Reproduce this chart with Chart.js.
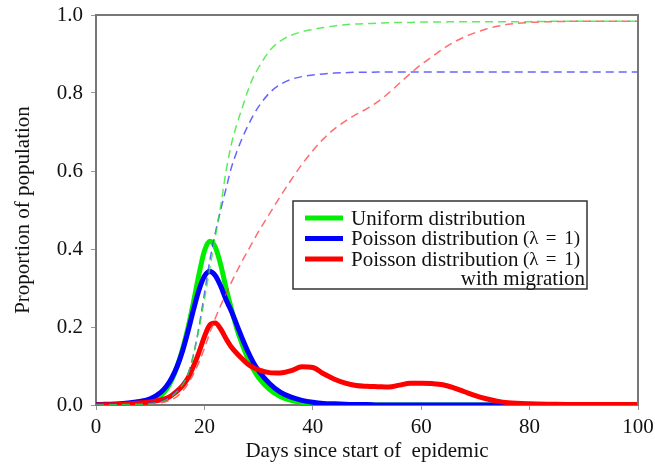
<!DOCTYPE html>
<html>
<head>
<meta charset="utf-8">
<script src="https://cdn.jsdelivr.net/npm/chart.js@4/dist/chart.umd.min.js"></script>
<style>
  html, body { margin: 0; padding: 0; background: #fff; }
  #wrap { width: 655px; height: 466px; }
</style>
</head>
<body>
<div id="wrap"><canvas id="graphic" width="655" height="466"></canvas></div>
<script>
// days sampled for every curve
const days = [0, 5, 8, 10, 12, 13, 14, 15, 16, 17, 18, 19, 20, 21, 22, 23, 24, 25, 26, 27, 28, 29, 30,
  32, 34, 36, 38, 40, 42, 44, 46, 48, 50, 52, 54, 56, 58, 60, 62, 64, 66, 68, 70, 72, 74, 76,
  80, 85, 90, 100];

// infected (solid lines)
const uniformInf = [0, 0.002, 0.005, 0.01, 0.025, 0.04, 0.065, 0.1, 0.145, 0.2, 0.265, 0.335, 0.395, 0.42, 0.405, 0.36, 0.3, 0.245, 0.195, 0.155, 0.12, 0.092, 0.07,
  0.04, 0.022, 0.012, 0.007, 0.004, 0.002, 0.001, 0.001, 0, 0, 0, 0, 0, 0, 0, 0, 0, 0, 0, 0, 0, 0, 0,
  0, 0, 0, 0];
const poissonInf = [0.001, 0.004, 0.009, 0.016, 0.033, 0.048, 0.07, 0.1, 0.14, 0.19, 0.245, 0.295, 0.33, 0.342, 0.332, 0.305, 0.27, 0.24, 0.205, 0.17, 0.138, 0.11, 0.088,
  0.055, 0.033, 0.02, 0.012, 0.007, 0.004, 0.003, 0.002, 0.001, 0.001, 0, 0, 0, 0, 0, 0, 0, 0, 0, 0, 0, 0, 0,
  0, 0, 0, 0];
const migrationInf = [0, 0.002, 0.005, 0.008, 0.013, 0.017, 0.025, 0.036, 0.05, 0.07, 0.1, 0.135, 0.175, 0.205, 0.21, 0.195, 0.17, 0.148, 0.132, 0.118, 0.105, 0.096, 0.09,
  0.083, 0.082, 0.088, 0.098, 0.096, 0.08, 0.066, 0.056, 0.05, 0.048, 0.047, 0.046, 0.051, 0.056, 0.056, 0.055, 0.052, 0.044, 0.034, 0.024, 0.016, 0.01, 0.006,
  0.003, 0.002, 0.001, 0.001];

// cumulative (dashed lines)
const uniformCum = [0, 0.001, 0.002, 0.003, 0.008, 0.013, 0.022, 0.035, 0.052, 0.08, 0.13, 0.195, 0.27, 0.35, 0.43, 0.51, 0.6, 0.67, 0.72, 0.763, 0.805, 0.84, 0.865,
  0.908, 0.933, 0.948, 0.957, 0.963, 0.968, 0.972, 0.975, 0.977, 0.978, 0.979, 0.98, 0.981, 0.981, 0.982, 0.982, 0.982, 0.983, 0.983, 0.983, 0.983, 0.983, 0.983,
  0.983, 0.984, 0.984, 0.984];
const poissonCum = [0, 0.001, 0.003, 0.005, 0.011, 0.016, 0.025, 0.038, 0.055, 0.08, 0.13, 0.2, 0.285, 0.37, 0.44, 0.5, 0.555, 0.61, 0.65, 0.685, 0.715, 0.742, 0.765,
  0.8, 0.822, 0.835, 0.842, 0.846, 0.849, 0.851, 0.852, 0.853, 0.853, 0.854, 0.854, 0.854, 0.854, 0.854, 0.854, 0.854, 0.854, 0.854, 0.854, 0.854, 0.854, 0.854,
  0.854, 0.854, 0.854, 0.854];
const migrationCum = [0, 0.001, 0.002, 0.003, 0.006, 0.009, 0.014, 0.022, 0.036, 0.055, 0.08, 0.11, 0.145, 0.185, 0.222, 0.255, 0.285, 0.315, 0.343, 0.37, 0.395, 0.42, 0.445,
  0.49, 0.535, 0.577, 0.617, 0.652, 0.683, 0.708, 0.728, 0.745, 0.76, 0.778, 0.8, 0.825, 0.85, 0.873, 0.893, 0.913, 0.93, 0.944, 0.955, 0.964, 0.971, 0.976,
  0.981, 0.983, 0.984, 0.984];

const xTicks = [0, 20, 40, 60, 80, 100];
const yTicks = [0, 0.2, 0.4, 0.6, 0.8, 1.0];

const legendLabels = ["Uniform distribution", "Poisson distribution", "Poisson distribution"];
const legendSmall = ["", "(\u03bb = 1)", "(\u03bb = 1)"];
const legendExtra = "with migration";

const serif = "'Liberation Serif', 'DejaVu Serif', serif";

function pts(arr) {
  return days.map((d, i) => ({ x: d, y: arr[i] }));
}

function line(label, arr, color, width, dash, order) {
  return {
    label: label,
    data: pts(arr),
    borderColor: color,
    borderWidth: width,
    borderDash: dash,
    pointRadius: 0,
    cubicInterpolationMode: "monotone",
    fill: false,
    order: order,
  };
}

// top and right edges of the plot box
const frame = {
  id: "frame",
  afterDatasetsDraw(chart) {
    const { ctx, chartArea: a } = chart;
    ctx.save();
    ctx.strokeStyle = "#777";
    ctx.lineWidth = 2;
    ctx.beginPath();
    ctx.moveTo(a.left, a.top);
    ctx.lineTo(a.right, a.top);
    ctx.lineTo(a.right, a.bottom);
    ctx.stroke();
    ctx.restore();
  },
};

const legendBox = {
  id: "legendBox",
  afterDraw(chart) {
    const ctx = chart.ctx;
    const bx = 293, by = 201, bw = 294, bh = 88;
    const colors = ["#00ee00", "#0000ff", "#ff0000"];
    ctx.save();
    ctx.fillStyle = "#fff";
    ctx.fillRect(bx, by, bw, bh);
    ctx.strokeStyle = "#333";
    ctx.lineWidth = 1.5;
    ctx.strokeRect(bx, by, bw, bh);
    ctx.textBaseline = "middle";
    ctx.fillStyle = "#111";
    legendLabels.forEach((lab, i) => {
      const y = 218 + i * 20.5;
      ctx.strokeStyle = colors[i];
      ctx.lineWidth = 5;
      ctx.beginPath();
      ctx.moveTo(305, y);
      ctx.lineTo(343, y);
      ctx.stroke();
      ctx.font = "21px " + serif;
      ctx.textAlign = "left";
      ctx.fillText(lab, 351, y + 1);
      if (legendSmall[i]) {
        // math-style spacing: "(λ" , "=" , "1)"
        const parts = legendSmall[i].split(" ");
        ctx.font = "19px " + serif;
        ctx.textAlign = "left";
        ctx.fillText(parts[0], 523, y + 1);
        ctx.textAlign = "center";
        ctx.fillText(parts[1], 551, y + 1);
        ctx.textAlign = "right";
        ctx.fillText(parts[2], 580, y + 1);
      }
    });
    ctx.font = "21px " + serif;
    ctx.textAlign = "right";
    ctx.fillText(legendExtra, 585, 279);
    ctx.restore();
  },
};

new Chart(document.getElementById("graphic"), {
  type: "line",
  data: {
    datasets: [
      line("Uniform distribution cumulative", uniformCum, "rgba(40,230,40,0.75)", 1.5, [8, 5], 0),
      line("Poisson cumulative", poissonCum, "rgba(50,50,255,0.75)", 1.5, [8, 5], 0),
      line("Poisson with migration cumulative", migrationCum, "rgba(255,60,60,0.75)", 1.5, [8, 5], 0),
      line("Poisson distribution (\u03bb = 1) with migration", migrationInf, "#ff0000", 5, [], 1),
      line("Poisson distribution (\u03bb = 1)", poissonInf, "#0000ff", 5, [], 2),
      line("Uniform distribution", uniformInf, "#00ee00", 5, [], 3),
    ],
  },
  options: {
    responsive: false,
    animation: false,
    devicePixelRatio: 1,
    layout: { padding: { left: 0, right: 17, top: 15, bottom: 0 } },
    plugins: {
      legend: { display: false },
      tooltip: { enabled: false },
    },
    scales: {
      x: {
        type: "linear",
        min: 0,
        max: 100,
        afterBuildTicks: (s) => { s.ticks = xTicks.map((v) => ({ value: v })); },
        afterFit: (s) => {
          s.height = 61;
          s.paddingLeft = 0;
          s.paddingRight = 0;
        },
        ticks: { font: { family: serif, size: 21 }, color: "#111", padding: 5, maxRotation: 0 },
        grid: { drawOnChartArea: false, drawTicks: true, tickLength: 5, color: "#999" },
        border: { color: "#777", width: 2 },
        title: {
          display: true,
          text: "Days since start of  epidemic",
          font: { family: serif, size: 21 },
          color: "#111",
          padding: { top: 0, bottom: 2 },
        },
      },
      y: {
        type: "linear",
        min: 0,
        max: 1,
        afterBuildTicks: (s) => { s.ticks = yTicks.map((v) => ({ value: v })); },
        afterFit: (s) => {
          s.width = 96;
          s.paddingTop = 0;
          s.paddingBottom = 0;
        },
        ticks: {
          font: { family: serif, size: 21 },
          color: "#111",
          padding: 8,
          callback: (v) => v.toFixed(1),
        },
        grid: { drawOnChartArea: false, drawTicks: true, tickLength: 5, color: "#999" },
        border: { color: "#777", width: 2 },
        title: {
          display: true,
          text: "Proportion of population",
          font: { family: serif, size: 21 },
          color: "#111",
          padding: { top: 11, bottom: 0 },
        },
      },
    },
  },
  plugins: [frame, legendBox],
});
</script>
</body>
</html>
